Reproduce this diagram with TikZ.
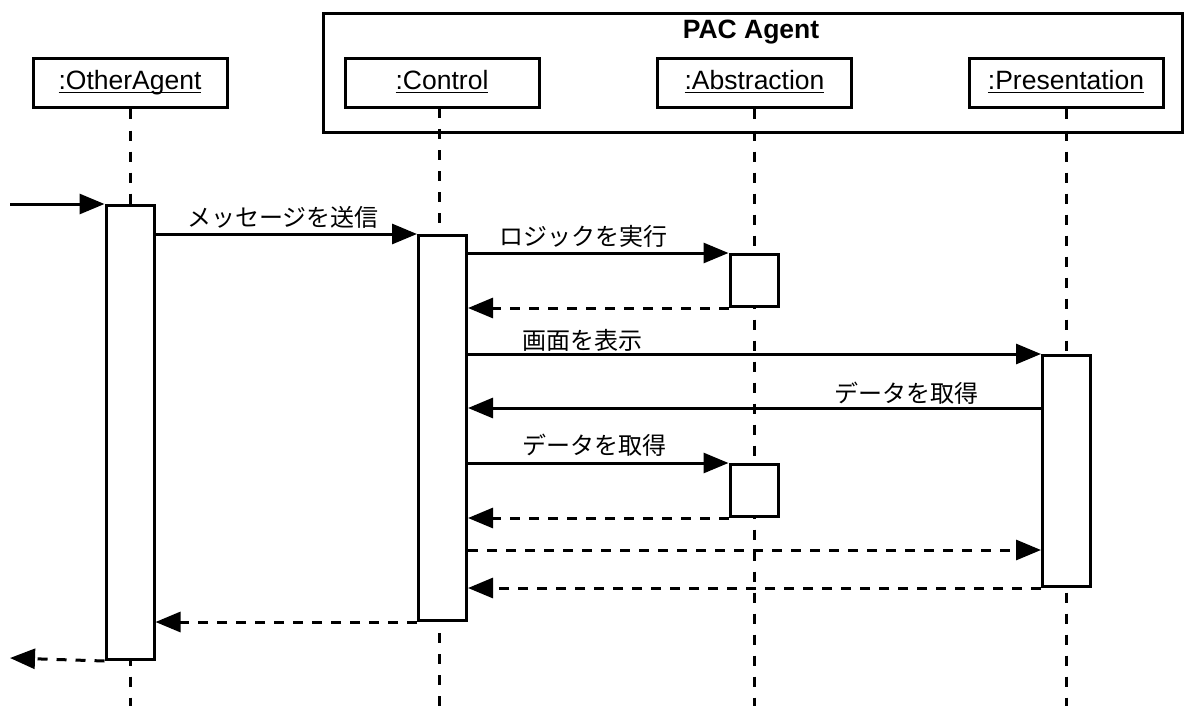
\documentclass[tikz,border=0pt]{standalone}
\usepackage{fontspec}
\setmainfont{Liberation Sans}
\newfontfamily\cjk{Noto Sans CJK JP}
\usetikzlibrary{arrows.meta}

% underlined object name for lifeline heads
\newcommand\objname[1]{\setbox0\hbox{#1}\rlap{\rule[-3.4pt]{\wd0}{1.5pt}}\box0}

\tikzset{
  base/.style={line width=3pt},
  head/.style={base, draw, fill=white, minimum width=194pt, minimum height=49pt,
    inner sep=0pt, text height=19pt, text depth=6pt,
    font=\fontsize{26.5}{30}\selectfont},
  bar/.style={base, draw, fill=white, minimum width=48pt, inner sep=0pt, anchor=north},
  lifeline/.style={base, dash pattern=on 10pt off 11pt},
  tipstyle/.style={-{Triangle[length=25pt, width=20pt]}},
  msg/.style={base, tipstyle},
  reply/.style={base, tipstyle, dash pattern=on 10pt off 9pt},
  lbl/.style={anchor=base, inner sep=0pt, font=\fontsize{24}{28}\selectfont\cjk},
}

\begin{document}
\begin{tikzpicture}[x=1pt, y=-1pt]
  \useasboundingbox (0,0) rectangle (1185,706);

  % enclosing agent frame
  \node[base, draw, anchor=north west, minimum width=859pt, minimum height=119pt,
    inner sep=0pt] (pac) at (322,12) {};
  \node[anchor=base, inner sep=0pt, font=\fontsize{26.5}{30}\selectfont\bfseries]
    (pactitle) at (751,39) {PAC Agent};

  % lifeline heads
  \node[head] (oa) at (130,83.5) {\objname{:OtherAgent}};
  \node[head] (ctl) at (442,83.5) {\objname{:Control}};
  \node[head] (abs) at (754.5,83.5) {\objname{:Abstraction}};
  \node[head] (pre) at (1066,83.5) {\objname{:Presentation}};

  % lifelines
  \coordinate (bottom) at (0,710);
  \coordinate (ctlx) at (439,108);
  \draw[lifeline] (oa.south) -- (oa.south |- bottom);
  \draw[lifeline] (ctlx) -- (ctlx |- bottom);
  \draw[lifeline] (abs.south) -- (abs.south |- bottom);
  \draw[lifeline] (pre.south) -- (pre.south |- bottom);

  % activation bars
  \node[bar, minimum height=454pt] (aoa) at (130,204) {};
  \node[bar, minimum height=385pt] (actl) at (442.5,234) {};
  \node[bar, minimum height=52pt] (aabs1) at (754,253) {};
  \node[bar, minimum height=231pt] (apre) at (1066.5,354) {};
  \node[bar, minimum height=52pt] (aabs2) at (754,463) {};

  % free ends of the found and lost messages, and spare message rows
  \coordinate (found) at (10,204);
  \coordinate (lost) at (10,658);
  \coordinate (m5) at (0,408);
  \coordinate (m8) at (0,550);

  % messages
  \draw[msg] (found) -- (aoa.north west);
  \draw[msg] (aoa.east |- actl.north west) -- (actl.north west);
  \draw[msg] (actl.east |- aabs1.north west) -- (aabs1.north west);
  \draw[reply] (aabs1.south west) -- (actl.east |- aabs1.south west);
  \draw[msg] (actl.east |- apre.north west) -- (apre.north west);
  \draw[msg] (apre.west |- m5) -- (actl.east |- m5);
  \draw[msg] (actl.east |- aabs2.north west) -- (aabs2.north west);
  \draw[reply] (aabs2.south west) -- (actl.east |- aabs2.south west);
  \draw[reply] (actl.east |- m8) -- (apre.west |- m8);
  \draw[reply] (apre.south west) -- (actl.east |- apre.south west);
  \draw[reply] (actl.south west) -- (aoa.east |- actl.south west);
  \draw[reply] (aoa.south west) -- (lost);

  % message labels
  \node[lbl] (l1) at (283,226) {メッセージを送信};
  \node[lbl] (l2) at (583,245) {ロジックを実行};
  \node[lbl] (l3) at (582,349) {画面を表示};
  \node[lbl] (l4) at (906,402) {データを取得};
  \node[lbl] (l5) at (594,454) {データを取得};
\end{tikzpicture}
\end{document}
